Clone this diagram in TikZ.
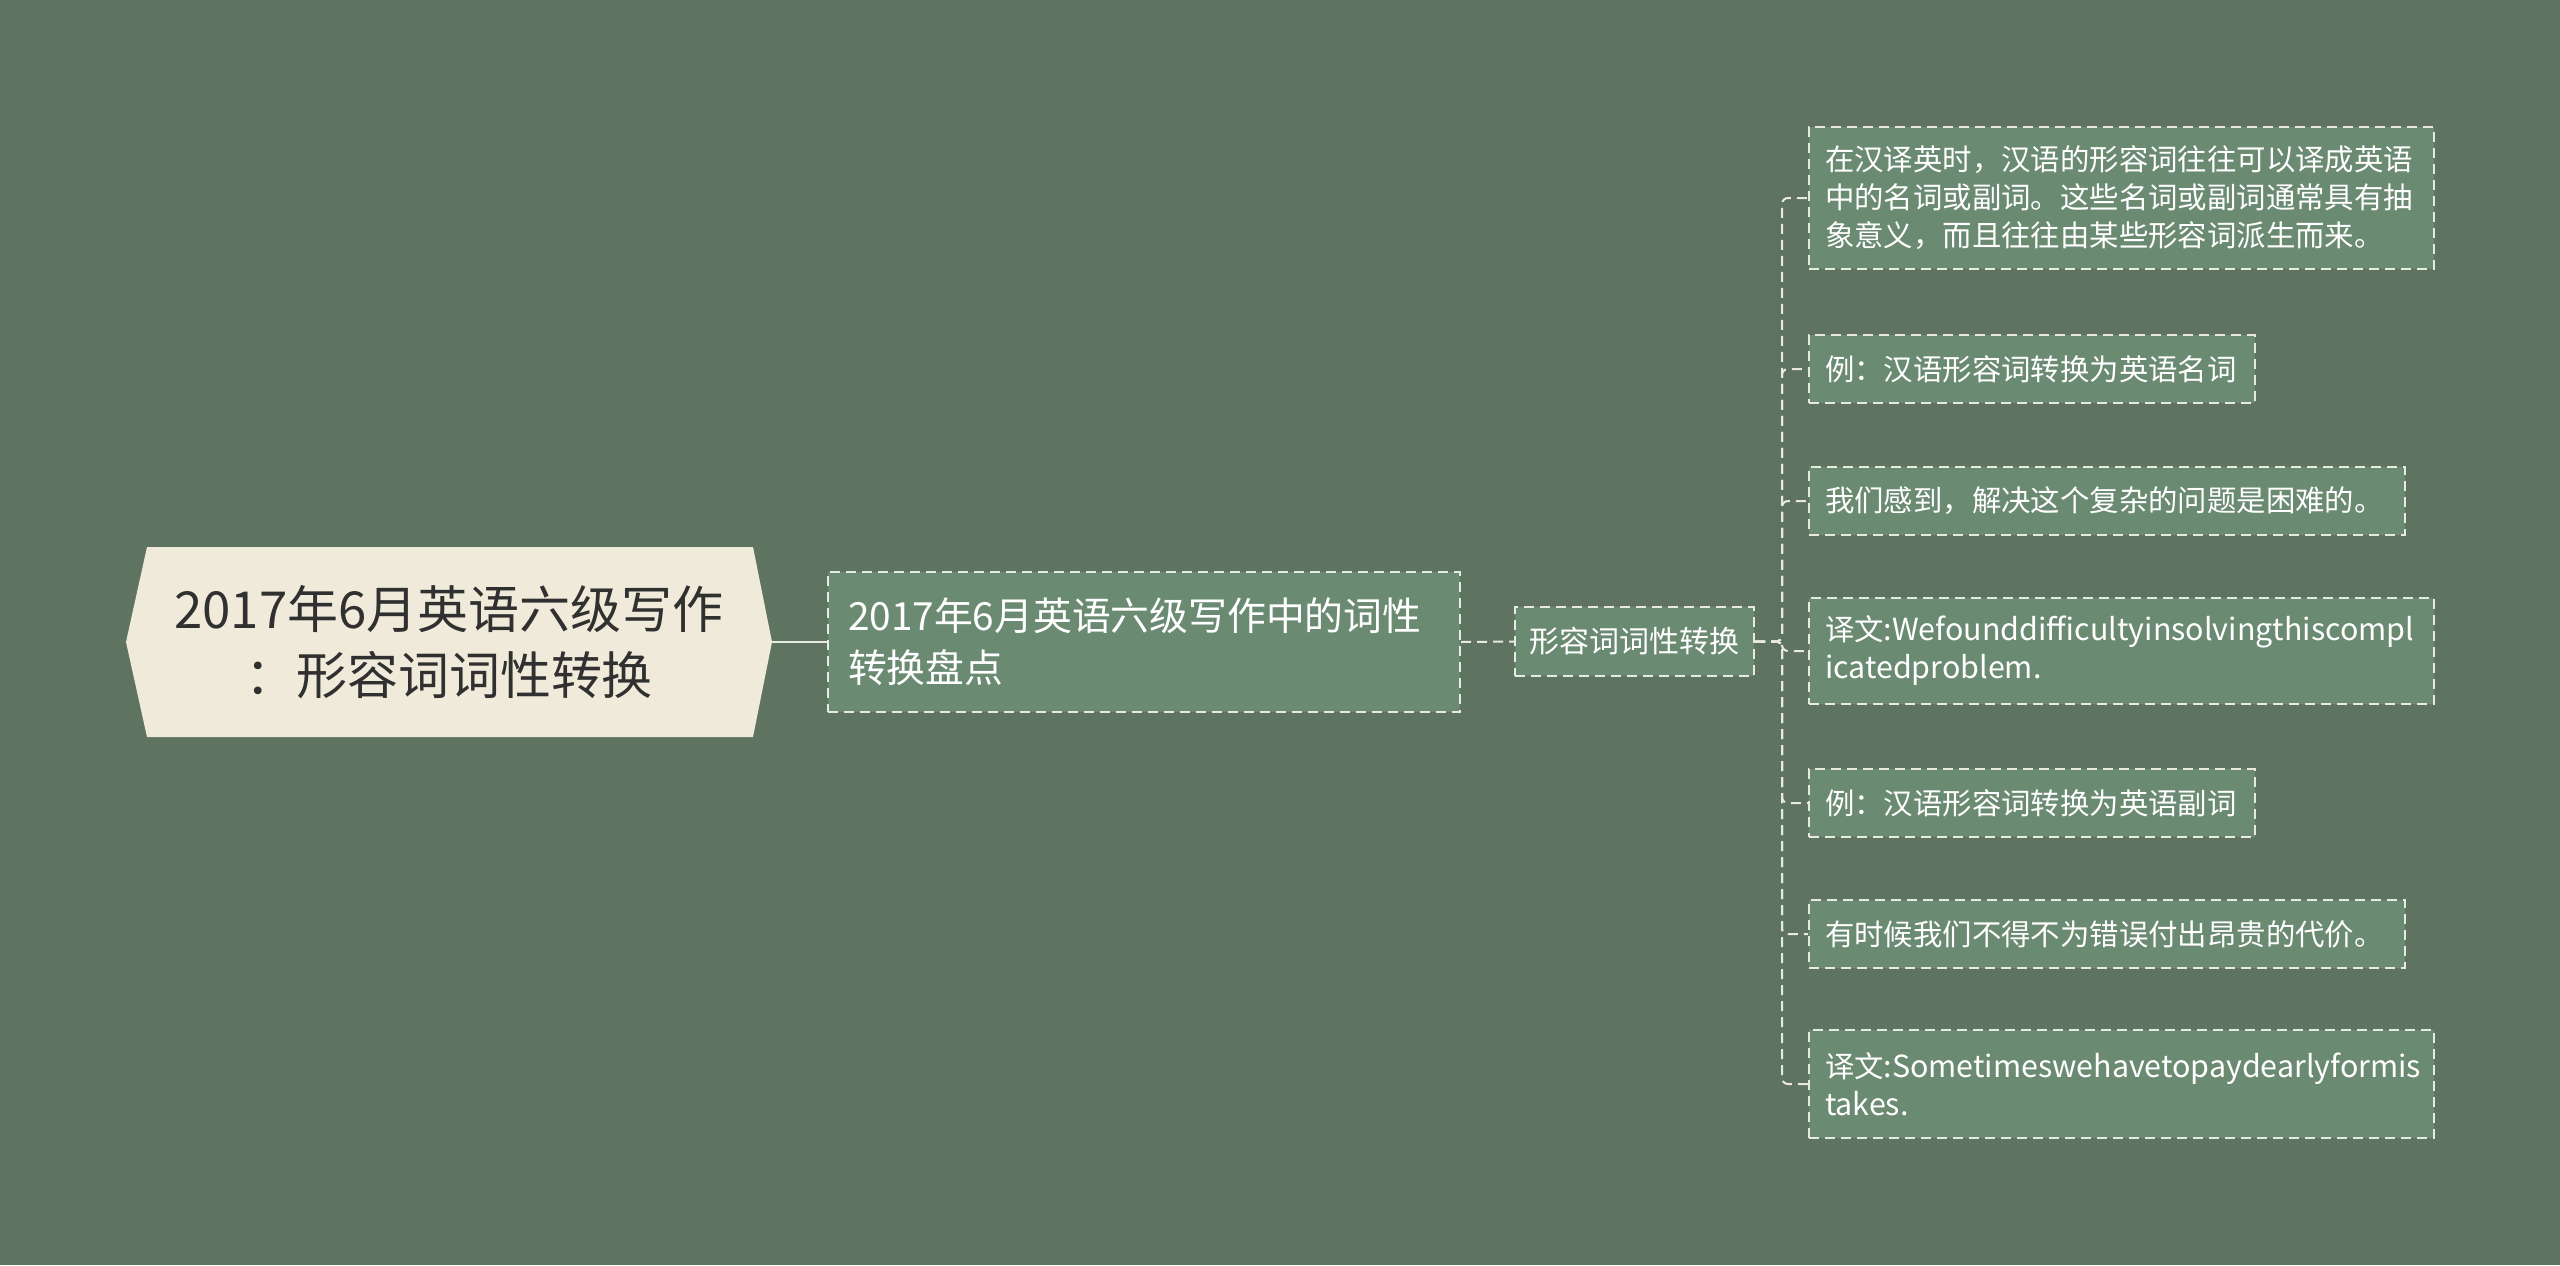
\documentclass[tikz,border=0pt]{standalone}
\usepackage{fontspec}
\newfontfamily\cjk{Noto Sans CJK SC}
\definecolor{bg}{HTML}{5F7361}
\definecolor{boxfill}{HTML}{6B8A72}
\definecolor{rootfill}{HTML}{EFEAD9}
\definecolor{edgecol}{HTML}{E8EAE2}
\definecolor{roottext}{HTML}{303030}
\newcommand{\latinbig}[1]{{\fontsize{15.2}{18.75}\selectfont #1}}
\begin{document}
\begin{tikzpicture}[x=0.5pt,y=-0.5pt,
  dashline/.style={draw=edgecol, line width=1pt, dash pattern=on 5pt off 3pt},
  conn/.style={dashline, rounded corners=3pt},
  leaf/.style={dashline, fill=boxfill, text=white, anchor=west,
    font=\cjk\fontsize{14.7}{19}\selectfont, align=left,
    inner xsep=8pt, inner ysep=0pt, text width=#1},
  mid/.style={dashline, fill=boxfill, text=white,
    font=\cjk\fontsize{19.4}{26}\selectfont, align=left,
    inner xsep=10pt, inner ysep=0pt, text width=296pt, minimum height=70pt},
  small/.style={dashline, fill=boxfill, text=white,
    font=\cjk\fontsize{15}{18}\selectfont, inner xsep=0pt, inner ysep=0pt,
    minimum width=119.5pt, minimum height=34.5pt}
]
\fill[bg] (0,0) rectangle (2560,1265);
\useasboundingbox (0,0) rectangle (2560,1265);

% root hexagon
\fill[rootfill] (126,642) -- (147,547) -- (753,547) -- (772,642) -- (753,737) -- (147,737) -- cycle;
\node[inner sep=0pt, minimum width=323pt, minimum height=95pt, text=roottext,
  font=\cjk\fontsize{25.5}{32.7}\selectfont, align=center] (root) at (449,642)
  {2017年6月英语六级写作\\：形容词词性转换};

\node[mid] (n2) at (1144,642) {2017年6月英语六级写作中的词性\\转换盘点};
\node[small] (n3) at (1634.5,641.5) {形容词词性转换};

\node[leaf=296.5pt, minimum height=71pt] (l1) at (1808,198)
  {在汉译英时，汉语的形容词往往可以译成英语\\中的名词或副词。这些名词或副词通常具有抽\\象意义，而且往往由某些形容词派生而来。};
\node[leaf=207pt, minimum height=34pt] (l2) at (1808,369) {例：汉语形容词转换为英语名词};
\node[leaf=282pt, minimum height=34pt] (l3) at (1808,501) {我们感到，解决这个复杂的问题是困难的。};
\node[leaf=296.5pt, minimum height=53pt] (l4) at (1808,651)
  {\mbox{译文\latinbig{:Wefounddifficultyinsolvingthiscompl}}\\\mbox{\latinbig{icatedproblem.}}};
\node[leaf=207pt, minimum height=34pt] (l5) at (1808,803) {例：汉语形容词转换为英语副词};
\node[leaf=282pt, minimum height=34pt] (l6) at (1808,934) {有时候我们不得不为错误付出昂贵的代价。};
\node[leaf=296.5pt, minimum height=54pt] (l7) at (1808,1084)
  {\mbox{译文\latinbig{:Sometimeswehavetopaydearlyformis}}\\\mbox{\latinbig{takes.}}};

\draw[edgecol, line width=1.2pt] (root.east) -- (n2.west);
\draw[dashline] (n2.east) -- (n3.west);
\coordinate (bus) at (1782,641.5);
\foreach \l in {l1,l2,l3,l4,l5,l6,l7}
  \draw[conn] (n3.east) -- (bus) |- (\l.west);
\end{tikzpicture}
\end{document}
